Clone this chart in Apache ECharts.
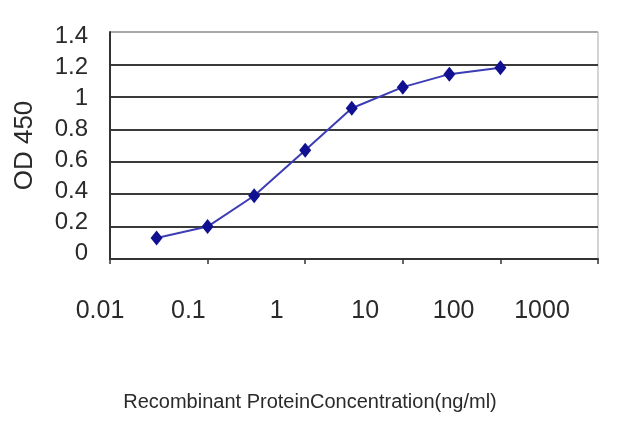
<!DOCTYPE html>
<html><head><meta charset="utf-8">
<script src="https://cdn.jsdelivr.net/npm/echarts@6/dist/echarts.min.js"></script>
<style>html,body{margin:0;padding:0;background:#fff}#c{width:640px;height:427px}</style>
</head><body><div id="c"></div>
<script>
const concentrations = [0.03, 0.1, 0.3, 1, 3, 10, 30, 100];
const od450 = [0.13, 0.20, 0.39, 0.67, 0.93, 1.06, 1.14, 1.18];
const yTitle = 'OD 450';
const xTitle = 'Recombinant ProteinConcentration(ng/ml)';
const xMin = 0.01, xMax = 1000;
const yMin = 0, yMax = 1.4, yStep = 0.2;

const data = concentrations.map((c, i) => [c, od450[i]]);
const font = '"Liberation Sans", Arial, sans-serif';
const gridColors = ['#3a3a3a','#3a3a3a','#3a3a3a','#3a3a3a','#3a3a3a','#3a3a3a','#3a3a3a','#aaaaaa'];

const chart = echarts.init(document.getElementById('c'));
chart.setOption({
  animation: false,
  backgroundColor: '#fff',
  grid: [
    {left: 110, right: 42, top: 32, bottom: 168, show: true, borderColor: '#aaaaaa', borderWidth: 1, containLabel: false, outerBoundsMode: 'none'},
    {left: 100, right: 98, top: 32, bottom: 168, containLabel: false, outerBoundsMode: 'none'},
    {left: 110, right: 42, top: 36, bottom: 174, containLabel: false, outerBoundsMode: 'none'}
  ],
  xAxis: [
    {type: 'log', logBase: 10, min: xMin, max: xMax, gridIndex: 0,
     axisLine: {show: true, onZero: false, lineStyle: {color: '#333', width: 2}},
     axisTick: {show: true, length: 5, lineStyle: {color: '#333', width: 1.5}},
     axisLabel: {show: false}, splitLine: {show: false}},
    {type: 'log', logBase: 10, min: xMin, max: xMax, gridIndex: 1,
     axisLine: {show: false}, axisTick: {show: false}, splitLine: {show: false},
     axisLabel: {show: true, margin: 40, fontSize: 25, fontFamily: font, color: '#2a2a2a',
       formatter: v => String(v)}},
    {type: 'value', gridIndex: 2, show: false}
  ],
  yAxis: [
    {type: 'value', min: yMin, max: yMax, interval: yStep, gridIndex: 0,
     name: yTitle, nameLocation: 'middle', nameGap: 72, nameRotate: 90,
     nameTextStyle: {fontSize: 26, fontFamily: font, color: '#2a2a2a'},
     axisLine: {show: true, lineStyle: {color: '#333', width: 2}},
     axisTick: {show: false}, axisLabel: {show: false},
     splitLine: {show: true, lineStyle: {color: gridColors, width: 2}}},
    {type: 'value', gridIndex: 1, show: false},
    {type: 'value', min: yMin, max: yMax, interval: yStep, gridIndex: 2,
     axisLine: {show: false}, axisTick: {show: false}, splitLine: {show: false},
     axisLabel: {show: true, margin: 22, fontSize: 24, fontFamily: font, color: '#2a2a2a'}}
  ],
  graphic: [
    {type: 'text', style: {text: xTitle, x: 310, y: 402, textAlign: 'center', textVerticalAlign: 'middle', fontSize: 20, fontFamily: font, fill: '#2a2a2a'}}
  ],
  series: [{
    type: 'line', xAxisIndex: 0, yAxisIndex: 0, data: data,
    symbol: 'diamond', symbolSize: [12, 15],
    itemStyle: {color: '#101090'},
    lineStyle: {color: '#3c3cb4', width: 2}
  }]
});
</script></body></html>
